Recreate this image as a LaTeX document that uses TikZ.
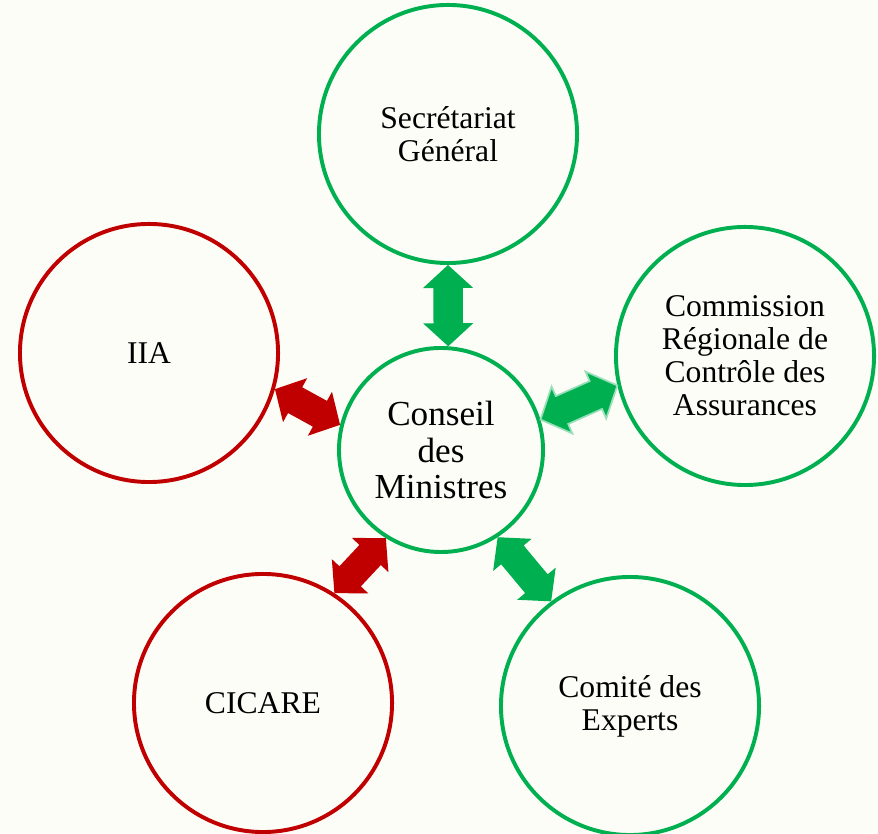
\documentclass[tikz,border=0pt]{standalone}
\usepackage{fontspec}
\setmainfont{Liberation Serif}
\usetikzlibrary{shapes.arrows,calc}
\definecolor{leaf}{RGB}{0,176,80}
\definecolor{brick}{RGB}{192,0,0}
\definecolor{paper}{RGB}{253,253,247}
\tikzset{
  organ/.style={circle,draw=#1,line width=2.8pt,fill=paper,minimum size=6.45cm,
    align=center,inner sep=0pt,font=\fontsize{22.5}{23.5}\selectfont},
  organ/.default=leaf,
  % double arrow stretched between two border points
  link/.style={to path={let \p1=(\tikztostart),\p2=(\tikztotarget),
      \n1={veclen(\x2-\x1,\y2-\y1)},\n2={atan2(\y2-\y1,\x2-\x1)} in
      node[double arrow,rotate=\n2,minimum height=\n1,inner xsep=0pt,inner ysep=0.36cm,
        double arrow head extend=0.26cm,double arrow tip angle=95,#1]
      at ($(\p1)!0.5!(\p2)$) {}}},
  link/.default={fill=leaf},
}

\begin{document}
\begin{tikzpicture}[x=0.025cm,y=0.025cm]
  \fill[paper] (0,0) rectangle (878,833);
  \useasboundingbox (0,0) rectangle (878,833);

  \node[organ,minimum size=5.1cm,font=\fontsize{25}{26}\selectfont] (cm) at (441,383) {Conseil\\des\\Ministres};
  \node[organ] (sg) at (448,699) {Secrétariat\\Général};
  \node[organ] (crca) at (745,477) {Commission\\Régionale de\\Contrôle des\\Assurances};
  \node[organ=brick] (iia) at (149,480) {IIA};
  \node[organ=brick] (cicare) at (263,130) {CICARE};
  \node[organ] (ce) at (630,127) {Comité des\\Experts};

  \path (cm.86) to[link] (sg.-90);
  \path (cm.17) to[link={fill=leaf,draw=leaf!40!white,line width=1.2pt}] (crca.-167);
  \path (iia.-16) to[link={fill=brick}] (cm.166);
  \path (cicare.57) to[link={fill=brick}] (cm.-122);
  \path (cm.-57) to[link] (ce.127);
\end{tikzpicture}
\end{document}
